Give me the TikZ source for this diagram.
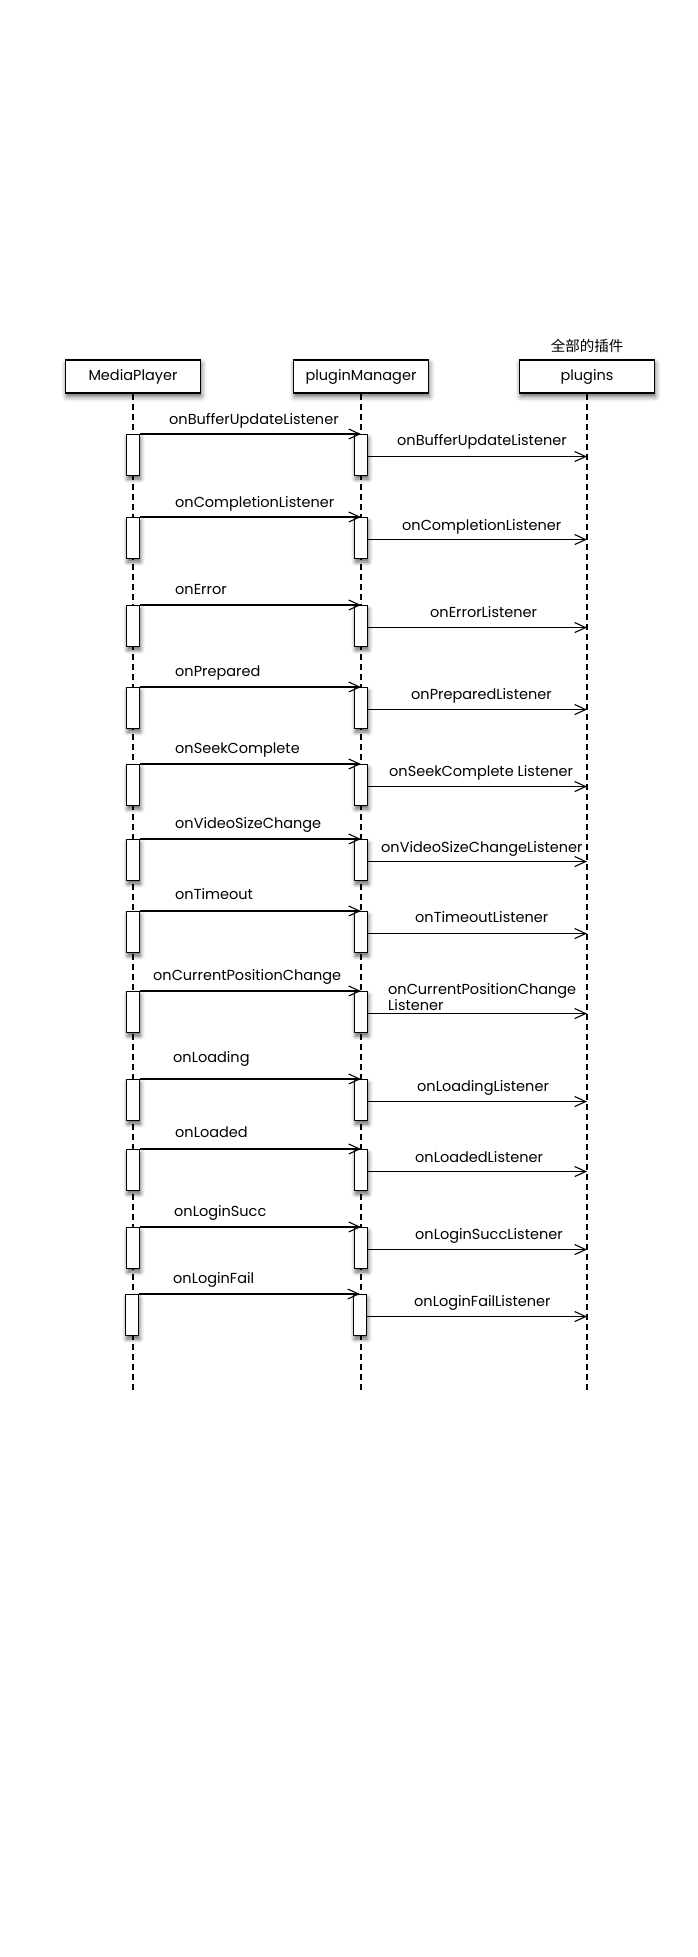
\documentclass[tikz,border=0pt]{standalone}
\usepackage{fontspec}
\setmainfont{Poppins}
\newfontfamily\cjkfont{Noto Sans CJK SC}
\usetikzlibrary{arrows.meta, positioning, shadows.blur}

\begin{document}
\begin{tikzpicture}[x=1pt, y=-1pt, node distance=228pt, on grid,
	font=\fontsize{14.5}{14}\selectfont,
	obj/.style={draw, fill=white, line width=1.1pt, minimum width=135pt, minimum height=33pt, inner sep=0pt,
		blur shadow={shadow xshift=1pt, shadow yshift=-3.5pt, shadow blur radius=5pt, shadow opacity=60}},
	act/.style={draw, fill=white, line width=1.1pt, minimum width=13.5pt, minimum height=41pt, inner sep=0pt, anchor=north,
		blur shadow={shadow xshift=1pt, shadow yshift=-3.5pt, shadow blur radius=4pt, shadow opacity=60}},
	msg/.style={anchor=base west, inner sep=0pt},
	life/.style={line width=1.1pt, dash pattern=on 6pt off 4pt},
	call/.style={line width=1.1pt, -{Straight Barb[length=11pt, width=10pt, line width=1.1pt]}}]
	\useasboundingbox (0,0) rectangle (698,1957);

	% Objects
	\node[obj] (mp) at (133,376.5) {MediaPlayer};
	\node[obj, right=of mp] (pm) {pluginManager};
	\node[obj, right=226pt of pm] (pl) {plugins};
	\node[font=\cjkfont\fontsize{14.5}{14}\selectfont, above=31pt of pl] (all) {全部的插件};

	% Lifelines
	\coordinate (bot) at (0,1390);
	\draw[life] (mp.south) -- (mp.south |- bot);
	\draw[life] (pm.south) -- (pm.south |- bot);
	\draw[life] (pl.south) -- (pl.south |- bot);

	% Activations
	\node[act] (a1) at (133,434) {};  \node[act] (b1) at (361,434) {};
	\node[act] (a2) at (133,517) {};  \node[act] (b2) at (361,517) {};
	\node[act] (a3) at (133,605) {};  \node[act] (b3) at (361,605) {};
	\node[act] (a4) at (133,687) {};  \node[act] (b4) at (361,687) {};
	\node[act] (a5) at (133,764) {};  \node[act] (b5) at (361,764) {};
	\node[act] (a6) at (133,839) {};  \node[act] (b6) at (361,839) {};
	\node[act] (a7) at (133,911) {};  \node[act] (b7) at (361,911) {};
	\node[act] (a8) at (133,991) {};  \node[act] (b8) at (361,991) {};
	\node[act] (a9) at (133,1079) {}; \node[act] (b9) at (361,1079) {};
	\node[act] (a10) at (133,1149) {}; \node[act] (b10) at (361,1149) {};
	\node[act] (a11) at (133,1227) {}; \node[act] (b11) at (361,1227) {};
	\node[act] (a12) at (132,1294) {}; \node[act] (b12) at (360,1294) {};

	% Messages
	\node[msg] at (169,424) {onBufferUpdateListener};
	\node[msg] at (397,445) {onBufferUpdateListener};
	\node[msg] at (175,507) {onCompletionListener};
	\node[msg] at (402,530) {onCompletionListener};
	\node[msg] at (175,594) {onError};
	\node[msg] at (430,617) {onErrorListener};
	\node[msg] at (175,676) {onPrepared};
	\node[msg] at (411,699) {onPreparedListener};
	\node[msg] at (175,753) {onSeekComplete};
	\node[msg] at (389,776) {onSeekComplete Listener};
	\node[msg] at (175,828) {onVideoSizeChange};
	\node[msg] at (381,852) {onVideoSizeChangeListener};
	\node[msg] at (175,899) {onTimeout};
	\node[msg] at (415,922) {onTimeoutListener};
	\node[msg] at (153,980) {onCurrentPositionChange};
	\node[msg, align=left] at (388,1010) {onCurrentPositionChange\\Listener};
	\node[msg] at (173,1062) {onLoading};
	\node[msg] at (417,1091) {onLoadingListener};
	\node[msg] at (175,1137) {onLoaded};
	\node[msg] at (415,1162) {onLoadedListener};
	\node[msg] at (174,1216) {onLoginSucc};
	\node[msg] at (415,1239) {onLoginSuccListener};
	\node[msg] at (173,1283) {onLoginFail};
	\node[msg] at (414,1306) {onLoginFailListener};

	% Calls
	\path[call]
	(a1.north east) edge (b1.north)
	([yshift=-1.5pt]b1.east) edge ([yshift=-1.5pt]b1.east -| pl)
	(a2.north east) edge (b2.north)
	([yshift=-1.5pt]b2.east) edge ([yshift=-1.5pt]b2.east -| pl)
	(a3.north east) edge (b3.north)
	([yshift=-1.5pt]b3.east) edge ([yshift=-1.5pt]b3.east -| pl)
	(a4.north east) edge (b4.north)
	([yshift=-1.5pt]b4.east) edge ([yshift=-1.5pt]b4.east -| pl)
	(a5.north east) edge (b5.north)
	([yshift=-1.5pt]b5.east) edge ([yshift=-1.5pt]b5.east -| pl)
	(a6.north east) edge (b6.north)
	([yshift=-1.5pt]b6.east) edge ([yshift=-1.5pt]b6.east -| pl)
	(a7.north east) edge (b7.north)
	([yshift=-1.5pt]b7.east) edge ([yshift=-1.5pt]b7.east -| pl)
	(a8.north east) edge (b8.north)
	([yshift=-1.5pt]b8.east) edge ([yshift=-1.5pt]b8.east -| pl)
	(a9.north east) edge (b9.north)
	([yshift=-1.5pt]b9.east) edge ([yshift=-1.5pt]b9.east -| pl)
	(a10.north east) edge (b10.north)
	([yshift=-1.5pt]b10.east) edge ([yshift=-1.5pt]b10.east -| pl)
	(a11.north east) edge (b11.north)
	([yshift=-1.5pt]b11.east) edge ([yshift=-1.5pt]b11.east -| pl)
	(a12.north east) edge (b12.north)
	([yshift=-1.5pt]b12.east) edge ([yshift=-1.5pt]b12.east -| pl)
	;
\end{tikzpicture}
\end{document}
